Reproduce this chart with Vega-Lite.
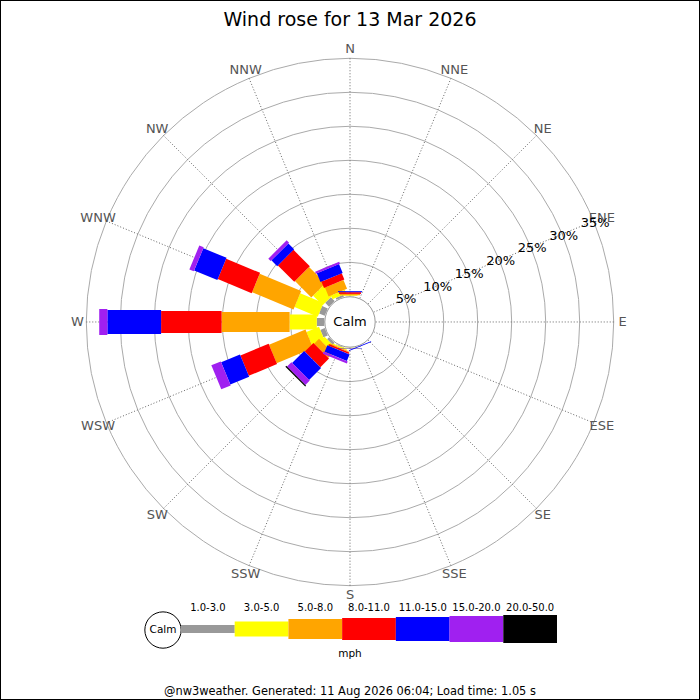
{
  "$schema": "https://vega.github.io/schema/vega-lite/v6.json",
  "width": 700,
  "height": 700,
  "padding": 0,
  "autosize": {"type": "none"},
  "background": "white",
  "view": {"stroke": "black", "strokeWidth": 2},
  "config": {"font": "DejaVu Sans", "text": {"font": "DejaVu Sans"}},
  "datasets": {
    "rose": [
      {"dir": "N", "angle": 0, "speed": "1.0-3.0", "pct": 0.05},
      {"dir": "N", "angle": 0, "speed": "3.0-5.0", "pct": 0.1},
      {"dir": "N", "angle": 0, "speed": "5.0-8.0", "pct": 0.2},
      {"dir": "N", "angle": 0, "speed": "8.0-11.0", "pct": 0.25},
      {"dir": "N", "angle": 0, "speed": "11.0-15.0", "pct": 0.15},
      {"dir": "NNW", "angle": 337.5, "speed": "1.0-3.0", "pct": 0.3},
      {"dir": "NNW", "angle": 337.5, "speed": "3.0-5.0", "pct": 0.6},
      {"dir": "NNW", "angle": 337.5, "speed": "5.0-8.0", "pct": 1.4},
      {"dir": "NNW", "angle": 337.5, "speed": "8.0-11.0", "pct": 1.0},
      {"dir": "NNW", "angle": 337.5, "speed": "11.0-15.0", "pct": 1.4},
      {"dir": "NNW", "angle": 337.5, "speed": "15.0-20.0", "pct": 0.3},
      {"dir": "NW", "angle": 315, "speed": "1.0-3.0", "pct": 0.8},
      {"dir": "NW", "angle": 315, "speed": "3.0-5.0", "pct": 2.0},
      {"dir": "NW", "angle": 315, "speed": "5.0-8.0", "pct": 3.4},
      {"dir": "NW", "angle": 315, "speed": "8.0-11.0", "pct": 3.4},
      {"dir": "NW", "angle": 315, "speed": "11.0-15.0", "pct": 1.2},
      {"dir": "NW", "angle": 315, "speed": "15.0-20.0", "pct": 0.5},
      {"dir": "WNW", "angle": 292.5, "speed": "1.0-3.0", "pct": 0.9},
      {"dir": "WNW", "angle": 292.5, "speed": "3.0-5.0", "pct": 3.7},
      {"dir": "WNW", "angle": 292.5, "speed": "5.0-8.0", "pct": 6.6},
      {"dir": "WNW", "angle": 292.5, "speed": "8.0-11.0", "pct": 5.4},
      {"dir": "WNW", "angle": 292.5, "speed": "11.0-15.0", "pct": 3.7},
      {"dir": "WNW", "angle": 292.5, "speed": "15.0-20.0", "pct": 0.7},
      {"dir": "W", "angle": 270, "speed": "1.0-3.0", "pct": 1.1},
      {"dir": "W", "angle": 270, "speed": "3.0-5.0", "pct": 4.0},
      {"dir": "W", "angle": 270, "speed": "5.0-8.0", "pct": 10.0},
      {"dir": "W", "angle": 270, "speed": "8.0-11.0", "pct": 8.9},
      {"dir": "W", "angle": 270, "speed": "11.0-15.0", "pct": 7.9},
      {"dir": "W", "angle": 270, "speed": "15.0-20.0", "pct": 1.2},
      {"dir": "WSW", "angle": 247.5, "speed": "1.0-3.0", "pct": 0.7},
      {"dir": "WSW", "angle": 247.5, "speed": "3.0-5.0", "pct": 2.0},
      {"dir": "WSW", "angle": 247.5, "speed": "5.0-8.0", "pct": 5.8},
      {"dir": "WSW", "angle": 247.5, "speed": "8.0-11.0", "pct": 4.5},
      {"dir": "WSW", "angle": 247.5, "speed": "11.0-15.0", "pct": 3.0},
      {"dir": "WSW", "angle": 247.5, "speed": "15.0-20.0", "pct": 1.5},
      {"dir": "SW", "angle": 225, "speed": "1.0-3.0", "pct": 0.4},
      {"dir": "SW", "angle": 225, "speed": "3.0-5.0", "pct": 0.8},
      {"dir": "SW", "angle": 225, "speed": "5.0-8.0", "pct": 1.0},
      {"dir": "SW", "angle": 225, "speed": "8.0-11.0", "pct": 1.8},
      {"dir": "SW", "angle": 225, "speed": "11.0-15.0", "pct": 2.5},
      {"dir": "SW", "angle": 225, "speed": "15.0-20.0", "pct": 0.9},
      {"dir": "SW", "angle": 225, "speed": "20.0-50.0", "pct": 0.2},
      {"dir": "SSW", "angle": 202.5, "speed": "1.0-3.0", "pct": 0.1},
      {"dir": "SSW", "angle": 202.5, "speed": "3.0-5.0", "pct": 0.15},
      {"dir": "SSW", "angle": 202.5, "speed": "5.0-8.0", "pct": 0.15},
      {"dir": "SSW", "angle": 202.5, "speed": "8.0-11.0", "pct": 0.25},
      {"dir": "SSW", "angle": 202.5, "speed": "11.0-15.0", "pct": 1.05},
      {"dir": "SSW", "angle": 202.5, "speed": "15.0-20.0", "pct": 0.35},
      {"dir": "S", "angle": 180, "speed": "3.0-5.0", "pct": 0.05},
      {"dir": "S", "angle": 180, "speed": "5.0-8.0", "pct": 0.05},
      {"dir": "S", "angle": 180, "speed": "11.0-15.0", "pct": 0.05},
      {"dir": "SSE", "angle": 157.5, "speed": "11.0-15.0", "pct": 0.12}
    ],
    "dirs": [
      {"dir": "N", "angle": 0}, {"dir": "NNE", "angle": 22.5}, {"dir": "NE", "angle": 45}, {"dir": "ENE", "angle": 67.5},
      {"dir": "E", "angle": 90}, {"dir": "ESE", "angle": 112.5}, {"dir": "SE", "angle": 135}, {"dir": "SSE", "angle": 157.5},
      {"dir": "S", "angle": 180}, {"dir": "SSW", "angle": 202.5}, {"dir": "SW", "angle": 225}, {"dir": "WSW", "angle": 247.5},
      {"dir": "W", "angle": 270}, {"dir": "WNW", "angle": 292.5}, {"dir": "NW", "angle": 315}, {"dir": "NNW", "angle": 337.5}
    ],
    "rings": [
      {"pct": 5}, {"pct": 10}, {"pct": 15}, {"pct": 20}, {"pct": 25}, {"pct": 30}, {"pct": 35}
    ],
    "speeds": [
      {"speed": "1.0-3.0"}, {"speed": "3.0-5.0"}, {"speed": "5.0-8.0"}, {"speed": "8.0-11.0"},
      {"speed": "11.0-15.0"}, {"speed": "15.0-20.0"}, {"speed": "20.0-50.0"}
    ]
  },
  "layer": [
    {
      "data": {"name": "rings"},
      "transform": [{"calculate": "datum.pct + 3.78", "as": "r"}],
      "mark": {"type": "point", "shape": "circle", "filled": false, "stroke": "#aaaaaa", "strokeWidth": 1, "opacity": 1},
      "encoding": {
        "x": {"datum": 0, "type": "quantitative", "scale": {"domain": [-51.47, 51.47], "nice": false, "zero": false}, "axis": null},
        "y": {"datum": 0, "type": "quantitative", "scale": {"domain": [-55.59, 47.35], "nice": false, "zero": false}, "axis": null},
        "size": {"field": "r", "type": "quantitative", "scale": {"type": "pow", "exponent": 2, "domain": [0, 38.78], "range": [0, 278150]}, "legend": null}
      }
    },
    {
      "data": {"name": "dirs"},
      "transform": [
        {"calculate": "datum.angle * PI / 180", "as": "a"},
        {"calculate": "3.78 * sin(datum.a)", "as": "x0"},
        {"calculate": "3.78 * cos(datum.a)", "as": "y0"},
        {"calculate": "38.78 * sin(datum.a)", "as": "x1"},
        {"calculate": "38.78 * cos(datum.a)", "as": "y1"}
      ],
      "mark": {"type": "rule", "color": "#666666", "strokeWidth": 1, "strokeDash": [1, 2]},
      "encoding": {
        "x": {"field": "x0", "type": "quantitative", "scale": {"domain": [-51.47, 51.47], "nice": false, "zero": false}, "axis": null},
        "y": {"field": "y0", "type": "quantitative", "scale": {"domain": [-55.59, 47.35], "nice": false, "zero": false}, "axis": null},
        "x2": {"field": "x1"},
        "y2": {"field": "y1"}
      }
    },
    {
      "data": {"name": "rose"},
      "transform": [
        {"calculate": "indexof(['1.0-3.0','3.0-5.0','5.0-8.0','8.0-11.0','11.0-15.0','15.0-20.0','20.0-50.0'], datum.speed)", "as": "rank"},
        {"stack": "pct", "groupby": ["dir"], "sort": [{"field": "rank", "order": "ascending"}], "as": ["p0", "p1"]},
        {"calculate": "datum.angle * PI / 180", "as": "a"},
        {"calculate": "(datum.p0 + 3.78) * sin(datum.a)", "as": "xa"},
        {"calculate": "(datum.p0 + 3.78) * cos(datum.a)", "as": "ya"},
        {"calculate": "(datum.p1 + 3.78) * sin(datum.a)", "as": "xb"},
        {"calculate": "(datum.p1 + 3.78) * cos(datum.a)", "as": "yb"}
      ],
      "mark": {"type": "rule", "strokeCap": "butt"},
      "encoding": {
        "x": {"field": "xa", "type": "quantitative", "scale": {"domain": [-51.47, 51.47], "nice": false, "zero": false}, "axis": null},
        "y": {"field": "ya", "type": "quantitative", "scale": {"domain": [-55.59, 47.35], "nice": false, "zero": false}, "axis": null},
        "x2": {"field": "xb"},
        "y2": {"field": "yb"},
        "order": {"field": "rank"},
        "color": {"field": "speed", "type": "nominal", "scale": {"domain": ["1.0-3.0", "3.0-5.0", "5.0-8.0", "8.0-11.0", "11.0-15.0", "15.0-20.0", "20.0-50.0"], "range": ["#999999", "#ffff00", "#ffa500", "#ff0000", "#0000ff", "#a020f0", "#000000"]}, "legend": null},
        "strokeWidth": {"field": "speed", "type": "ordinal", "scale": {"type": "ordinal", "domain": ["1.0-3.0", "3.0-5.0", "5.0-8.0", "8.0-11.0", "11.0-15.0", "15.0-20.0", "20.0-50.0"], "range": [8, 15, 20, 22, 24, 26, 28]}, "legend": null}
      }
    },
    {
      "data": {"values": [{"label": "Calm"}]},
      "layer": [
        {
          "mark": {"type": "point", "shape": "circle", "filled": true, "fill": "white", "stroke": "#999999", "strokeWidth": 1, "size": 2540, "opacity": 1}
        },
        {
          "mark": {"type": "text", "fontSize": 13, "color": "black", "baseline": "middle", "align": "center"},
          "encoding": {"text": {"field": "label"}}
        }
      ],
      "encoding": {
        "x": {"datum": 0, "type": "quantitative", "scale": {"domain": [-51.47, 51.47], "nice": false, "zero": false}, "axis": null},
        "y": {"datum": 0, "type": "quantitative", "scale": {"domain": [-55.59, 47.35], "nice": false, "zero": false}, "axis": null}
      }
    },
    {
      "data": {"name": "dirs"},
      "transform": [
        {"calculate": "datum.angle * PI / 180", "as": "a"},
        {"calculate": "40.1 * sin(datum.a)", "as": "lx"},
        {"calculate": "40.1 * cos(datum.a)", "as": "ly"}
      ],
      "mark": {"type": "text", "fontSize": 13, "color": "#555555", "baseline": "middle", "align": "center"},
      "encoding": {
        "x": {"field": "lx", "type": "quantitative", "scale": {"domain": [-51.47, 51.47], "nice": false, "zero": false}, "axis": null},
        "y": {"field": "ly", "type": "quantitative", "scale": {"domain": [-55.59, 47.35], "nice": false, "zero": false}, "axis": null},
        "text": {"field": "dir"}
      }
    },
    {
      "data": {"name": "rings"},
      "transform": [
        {"calculate": "(datum.pct + 3.9) * sin(68 * PI / 180)", "as": "lx"},
        {"calculate": "(datum.pct + 3.9) * cos(68 * PI / 180)", "as": "ly"},
        {"calculate": "datum.pct + '%'", "as": "lbl"}
      ],
      "mark": {"type": "text", "fontSize": 13, "color": "black", "baseline": "middle", "align": "center"},
      "encoding": {
        "x": {"field": "lx", "type": "quantitative", "scale": {"domain": [-51.47, 51.47], "nice": false, "zero": false}, "axis": null},
        "y": {"field": "ly", "type": "quantitative", "scale": {"domain": [-55.59, 47.35], "nice": false, "zero": false}, "axis": null},
        "text": {"field": "lbl"}
      }
    },
    {
      "data": {"values": [{"t": "Wind rose for 13 Mar 2026"}]},
      "mark": {"type": "text", "fontSize": 19, "color": "black", "baseline": "alphabetic", "align": "center"},
      "encoding": {
        "x": {"datum": 0, "type": "quantitative", "scale": {"domain": [-51.47, 51.47], "nice": false, "zero": false}, "axis": null},
        "y": {"datum": 43.53, "type": "quantitative", "scale": {"domain": [-55.59, 47.35], "nice": false, "zero": false}, "axis": null},
        "text": {"field": "t"}
      }
    },
    {
      "data": {"values": [{"t": "@nw3weather. Generated: 11 Aug 2026 06:04; Load time: 1.05 s"}]},
      "mark": {"type": "text", "fontSize": 11.4, "color": "black", "baseline": "alphabetic", "align": "center"},
      "encoding": {
        "x": {"datum": 0, "type": "quantitative", "scale": {"domain": [-51.47, 51.47], "nice": false, "zero": false}, "axis": null},
        "y": {"datum": -54.85, "type": "quantitative", "scale": {"domain": [-55.59, 47.35], "nice": false, "zero": false}, "axis": null},
        "text": {"field": "t"}
      }
    },
    {
      "data": {"values": [{"label": "Calm", "unit": "mph"}]},
      "layer": [
        {
          "mark": {"type": "point", "shape": "circle", "filled": true, "fill": "white", "stroke": "black", "strokeWidth": 1, "size": 1320, "opacity": 1},
          "encoding": {
            "x": {"datum": -27.5, "type": "quantitative", "scale": {"domain": [-51.47, 51.47], "nice": false, "zero": false}, "axis": null},
            "y": {"datum": -45.3, "type": "quantitative", "scale": {"domain": [-55.59, 47.35], "nice": false, "zero": false}, "axis": null}
          }
        },
        {
          "mark": {"type": "text", "fontSize": 10.5, "color": "black", "baseline": "middle", "align": "center"},
          "encoding": {
            "x": {"datum": -27.5, "type": "quantitative", "scale": {"domain": [-51.47, 51.47], "nice": false, "zero": false}, "axis": null},
            "y": {"datum": -45.3, "type": "quantitative", "scale": {"domain": [-55.59, 47.35], "nice": false, "zero": false}, "axis": null},
            "text": {"field": "label"}
          }
        },
        {
          "mark": {"type": "text", "fontSize": 10.5, "color": "black", "baseline": "alphabetic", "align": "center"},
          "encoding": {
            "x": {"datum": 0, "type": "quantitative", "scale": {"domain": [-51.47, 51.47], "nice": false, "zero": false}, "axis": null},
            "y": {"datum": -49.26, "type": "quantitative", "scale": {"domain": [-55.59, 47.35], "nice": false, "zero": false}, "axis": null},
            "text": {"field": "unit"}
          }
        }
      ]
    },
    {
      "data": {"name": "speeds"},
      "layer": [
        {
          "mark": {"type": "rule", "strokeCap": "butt"},
          "encoding": {
            "x": {"field": "speed", "type": "ordinal", "bandPosition": 0, "scale": {"type": "band", "domain": ["1.0-3.0", "3.0-5.0", "5.0-8.0", "8.0-11.0", "11.0-15.0", "15.0-20.0", "20.0-50.0"], "range": [181, 557], "paddingInner": 0, "paddingOuter": 0}, "axis": null},
            "x2": {"field": "speed", "bandPosition": 1},
            "y": {"datum": -45.15, "type": "quantitative", "scale": {"domain": [-55.59, 47.35], "nice": false, "zero": false}, "axis": null},
            "color": {"field": "speed", "type": "nominal", "scale": {"domain": ["1.0-3.0", "3.0-5.0", "5.0-8.0", "8.0-11.0", "11.0-15.0", "15.0-20.0", "20.0-50.0"], "range": ["#999999", "#ffff00", "#ffa500", "#ff0000", "#0000ff", "#a020f0", "#000000"]}, "legend": null},
            "strokeWidth": {"field": "speed", "type": "ordinal", "scale": {"type": "ordinal", "domain": ["1.0-3.0", "3.0-5.0", "5.0-8.0", "8.0-11.0", "11.0-15.0", "15.0-20.0", "20.0-50.0"], "range": [8, 15, 20, 22, 24, 26, 28]}, "legend": null}
          }
        },
        {
          "mark": {"type": "text", "fontSize": 10, "color": "black", "baseline": "alphabetic", "align": "center"},
          "encoding": {
            "x": {"field": "speed", "type": "ordinal", "scale": {"type": "band", "domain": ["1.0-3.0", "3.0-5.0", "5.0-8.0", "8.0-11.0", "11.0-15.0", "15.0-20.0", "20.0-50.0"], "range": [181, 557], "paddingInner": 0, "paddingOuter": 0}, "axis": null},
            "y": {"datum": -42.5, "type": "quantitative", "scale": {"domain": [-55.59, 47.35], "nice": false, "zero": false}, "axis": null},
            "text": {"field": "speed"}
          }
        }
      ]
    }
  ],
  "resolve": {"scale": {"x": "independent"}}
}
